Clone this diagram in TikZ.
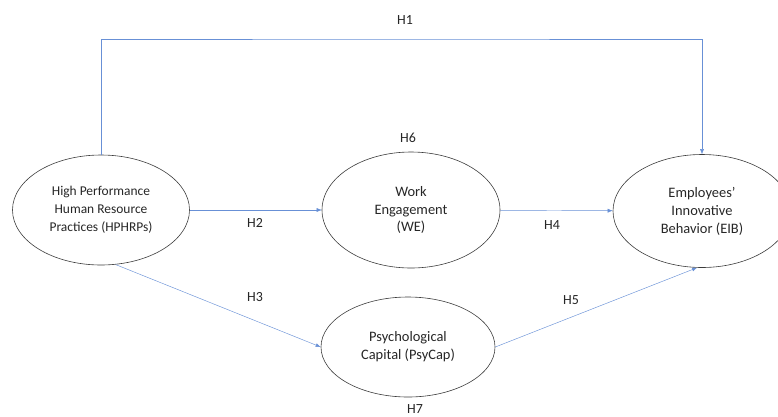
\documentclass[tikz,border=0pt]{standalone}
\usepackage{fontspec}
\setmainfont{Carlito}
\usetikzlibrary{shapes.geometric,arrows.meta}
\definecolor{linkblue}{RGB}{104,144,214}
\definecolor{inkgray}{RGB}{38,38,38}
\tikzset{
  construct/.style={draw=inkgray!90, line width=0.6pt, ellipse, inner sep=0pt,
                    align=center, text=inkgray, font=\fontsize{14.5}{18}\selectfont},
  link/.style={-{Latex[length=5pt,width=4pt]}, draw=linkblue, line width=0.45pt},
  hyp/.style={text=inkgray, font=\fontsize{14}{17}\selectfont}
}

\begin{document}
\begin{tikzpicture}[x=1bp, y=-1bp]
 \useasboundingbox (0,0) rectangle (778,416);

 \node[construct, minimum width=177bp, minimum height=110bp, font=\fontsize{13.5}{18}\selectfont]
      (hphrp)  at (101, 210) {High Performance\\Human Resource\\Practices (HPHRPs)};
 \node[construct, minimum width=178bp, minimum height=116bp] (we)     at (411, 210) {Work\\Engagement\\(WE)};
 \node[construct, minimum width=178bp, minimum height=113bp] (eib)    at (702, 211) {Employees'\\Innovative\\Behavior (EIB)};
 \node[construct, minimum width=174bp, minimum height=100bp] (psycap) at (408, 347) {Psychological\\Capital (PsyCap)};

 \coordinate (h1top) at (400, 39);

 \node[hyp] (h1) at (405, 20)  {H1};
 \node[hyp] (h2) at (255, 223) {H2};
 \node[hyp] (h3) at (255, 297) {H3};
 \node[hyp] (h4) at (552, 225) {H4};
 \node[hyp] (h5) at (571, 300) {H5};
 \node[hyp] (h6) at (408, 138) {H6};
 \node[hyp] (h7) at (415, 409) {H7};

 \draw[link] (hphrp) |- (h1top) -| (eib);
 \draw[link] (hphrp) to (we);
 \draw[link] (we) to (eib);
 \draw[link] (hphrp.-75) to (psycap.west);
 \draw[link] (psycap.east) to (eib.-95);
\end{tikzpicture}
\end{document}
